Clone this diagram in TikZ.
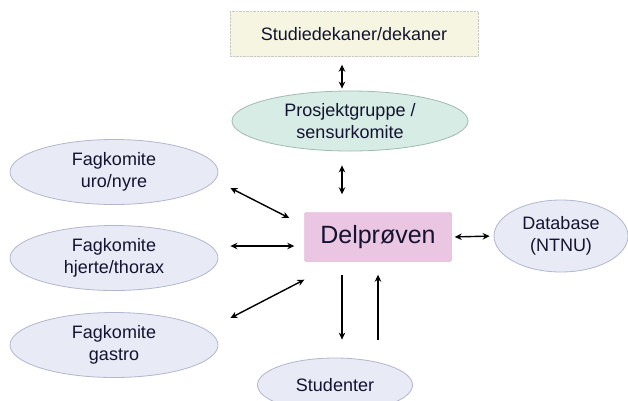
\documentclass[tikz,border=0pt]{standalone}
\usepackage{fontspec}
\setmainfont{Liberation Sans}
\usepackage{xcolor}
\usetikzlibrary{positioning, arrows.meta}
\usetikzlibrary{shapes.geometric}

\definecolor{textnavy}{RGB}{20,20,48}
\definecolor{dekanfill}{RGB}{245,245,226}
\definecolor{prosjfill}{RGB}{214,236,228}
\definecolor{prosjline}{RGB}{160,186,178}
\definecolor{delpfill}{RGB}{234,198,226}
\definecolor{delpline}{RGB}{214,160,202}
\definecolor{fagfill}{RGB}{232,234,246}
\definecolor{fagline}{RGB}{178,182,206}

\begin{document}
\begin{tikzpicture}[x=1pt, y=-1pt, >={Stealth[length=7pt, width=6.5pt]},
    every node/.style={text=textnavy, font=\fontsize{18}{22}\selectfont, align=center},
    boks/.style={rectangle, inner sep=0pt},
    komite/.style={ellipse, inner sep=0pt, fill=fagfill, draw=fagline, line width=0.8pt},
    pil/.style={<->, black, line width=1.4pt}]
        \clip (0,0) rectangle (628,400);

        \node[boks, fill=dekanfill, draw=black!22, densely dotted, minimum width=248pt, minimum height=45pt] (dekan) at (354, 34) {Studiedekaner/dekaner};
        \node[ellipse, inner sep=0pt, fill=prosjfill, draw=prosjline, line width=0.8pt, minimum width=236pt, minimum height=60pt] (prosjekt) at (350, 121) {Prosjektgruppe /\\sensurkomite};
        \node[boks, fill=delpfill, draw=delpline, rounded corners=2pt, minimum width=147pt, minimum height=49pt, font=\fontsize{25}{30}\selectfont] (delp) at (378, 237) {Delprøven};
        \node[komite, minimum width=208pt, minimum height=65pt] (uro) at (114, 172) {Fagkomite\\uro/nyre};
        \node[komite, minimum width=208pt, minimum height=65pt] (hjerte) at (114, 258) {Fagkomite\\hjerte/thorax};
        \node[komite, minimum width=208pt, minimum height=65pt] (gastro) at (114, 345) {Fagkomite\\gastro};
        \node[komite, minimum width=134pt, minimum height=72pt] (db) at (561, 236) {Database\\(NTNU)};
        \node[komite, minimum width=155pt, minimum height=54pt] (stud) at (335, 385) {Studenter};

        \draw[pil, shorten <=8pt, shorten >=2pt] ([xshift=-12pt]dekan.south) -- ([xshift=-8pt]prosjekt.north);
        \draw[pil, shorten <=14pt, shorten >=18pt] ([xshift=-8pt]prosjekt.south) -- ([xshift=-36pt]delp.north);
        \draw[pil] ([xshift=12pt, yshift=-16pt]uro.east) -- ([xshift=-15pt, yshift=19pt]delp.west);
        \draw[pil] ([xshift=12pt, yshift=12pt]hjerte.east) -- ([xshift=-10pt, yshift=-9pt]delp.west);
        \draw[pil] ([xshift=12pt, yshift=27pt]gastro.east) -- ([yshift=-18pt]delp.south west);
        \draw[pil, shorten <=3pt, shorten >=4pt] (delp.east) -- (db.west);
        \draw[->, black, line width=1.4pt, shorten <=13pt, shorten >=18pt] ([xshift=-36pt]delp.south) -- ([xshift=7pt]stud.north);
        \draw[->, black, line width=1.4pt, shorten <=18pt, shorten >=13pt] ([xshift=43pt]stud.north) -- (delp.south);
\end{tikzpicture}
\end{document}
